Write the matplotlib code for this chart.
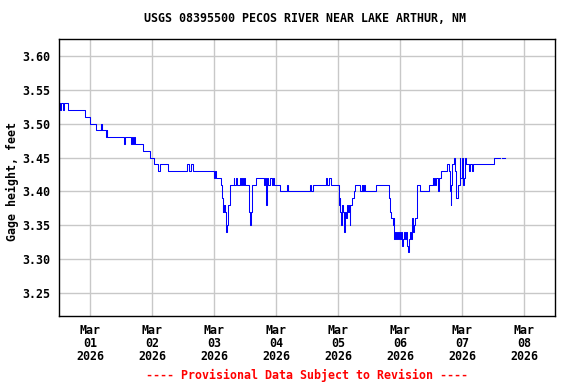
import numpy as np
import matplotlib
matplotlib.use("Agg")
import matplotlib.pyplot as plt
import matplotlib.dates as mdates

# Gage readings (days after 2026-03-01 00:00, feet)
dias = [-0.50, -0.48, -0.46, -0.44, -0.42, -0.36, -0.08, 0.00, 0.10, 0.17,
        0.18, 0.19, 0.20, 0.26, 0.27, 0.28, 0.55, 0.57, 0.66, 0.68,
        0.69, 0.71, 0.72, 0.85, 0.96, 1.04, 1.09, 1.13, 1.26, 1.56,
        1.59, 1.63, 1.66, 2.00, 2.01, 2.03, 2.12, 2.13, 2.14, 2.15,
        2.16, 2.17, 2.18, 2.19, 2.20, 2.21, 2.22, 2.23, 2.25, 2.26,
        2.32, 2.33, 2.36, 2.37, 2.42, 2.44, 2.45, 2.47, 2.48, 2.50,
        2.56, 2.58, 2.59, 2.61, 2.62, 2.67, 2.81, 2.82, 2.84, 2.85,
        2.86, 2.87, 2.90, 2.94, 2.95, 2.97, 3.06, 3.17, 3.19, 3.55,
        3.56, 3.59, 3.81, 3.82, 3.85, 3.89, 4.02, 4.03, 4.04, 4.05,
        4.06, 4.08, 4.10, 4.11, 4.13, 4.15, 4.16, 4.18, 4.19, 4.20,
        4.22, 4.25, 4.27, 4.36, 4.38, 4.39, 4.40, 4.41, 4.42, 4.44,
        4.62, 4.83, 4.84, 4.85, 4.89, 4.90, 4.91, 4.92, 4.94, 4.95,
        4.97, 4.98, 5.00, 5.02, 5.03, 5.05, 5.07, 5.08, 5.10, 5.11,
        5.13, 5.15, 5.16, 5.18, 5.20, 5.21, 5.23, 5.24, 5.27, 5.33,
        5.47, 5.53, 5.54, 5.55, 5.57, 5.58, 5.62, 5.63, 5.66, 5.75,
        5.79, 5.80, 5.82, 5.83, 5.84, 5.87, 5.89, 5.90, 5.94, 5.96,
        5.97, 6.00, 6.01, 6.04, 6.05, 6.06, 6.12, 6.13, 6.16, 6.17,
        6.52, 6.62, 6.64, 6.69]

altura = [3.53, 3.52, 3.53, 3.52, 3.53, 3.52, 3.51, 3.50, 3.49, 3.50,
          3.49, 3.50, 3.49, 3.48, 3.49, 3.48, 3.47, 3.48, 3.47, 3.48,
          3.47, 3.48, 3.47, 3.46, 3.45, 3.44, 3.43, 3.44, 3.43, 3.44,
          3.43, 3.44, 3.43, 3.42, 3.43, 3.42, 3.41, 3.39, 3.37, 3.38,
          3.37, 3.38, 3.37, 3.35, 3.34, 3.35, 3.37, 3.38, 3.39, 3.41,
          3.42, 3.41, 3.42, 3.41, 3.42, 3.41, 3.42, 3.41, 3.42, 3.41,
          3.37, 3.35, 3.37, 3.40, 3.41, 3.42, 3.41, 3.42, 3.38, 3.41,
          3.42, 3.41, 3.42, 3.41, 3.42, 3.41, 3.40, 3.41, 3.40, 3.41,
          3.40, 3.41, 3.42, 3.41, 3.42, 3.41, 3.38, 3.39, 3.37, 3.35,
          3.38, 3.37, 3.34, 3.37, 3.36, 3.38, 3.37, 3.38, 3.35, 3.38,
          3.39, 3.40, 3.41, 3.40, 3.41, 3.40, 3.41, 3.40, 3.41, 3.40,
          3.41, 3.39, 3.37, 3.36, 3.35, 3.36, 3.33, 3.34, 3.33, 3.34,
          3.33, 3.34, 3.33, 3.34, 3.32, 3.33, 3.34, 3.33, 3.34, 3.32,
          3.31, 3.33, 3.34, 3.33, 3.36, 3.34, 3.35, 3.36, 3.41, 3.40,
          3.41, 3.42, 3.41, 3.42, 3.41, 3.42, 3.40, 3.42, 3.43, 3.44,
          3.43, 3.40, 3.38, 3.41, 3.44, 3.45, 3.43, 3.39, 3.41, 3.45,
          3.42, 3.45, 3.41, 3.42, 3.45, 3.44, 3.43, 3.44, 3.43, 3.44,
          3.45, np.nan, 3.45, 3.45]

titulo = "USGS 08395500 PECOS RIVER NEAR LAKE ARTHUR, NM"
etiqueta_y = "Gage height, feet"
aviso = "---- Provisional Data Subject to Revision ----"
ticks_y = [3.25, 3.30, 3.35, 3.40, 3.45, 3.50, 3.55, 3.60]

inicio = np.datetime64("2026-03-01T00:00")
tiempos = inicio + (np.array(dias) * 1440).round().astype("timedelta64[m]")

fuente = "DejaVu Sans Mono"
plt.rcParams["font.family"] = fuente
plt.rcParams["font.weight"] = "bold"

fig = plt.figure(figsize=(5.76, 3.84), dpi=100)
ax = fig.add_axes([59 / 576, 1 - 316 / 384, 496 / 576, 277 / 384])

ax.step(tiempos, altura, where="post", color="#0000ff", linewidth=0.75)

ax.set_xlim(np.datetime64("2026-02-28T12:00"), np.datetime64("2026-03-08T12:00"))
ax.set_ylim(3.216, 3.625)
ax.set_yticks(ticks_y)
ax.yaxis.set_major_formatter(plt.FormatStrFormatter("%.2f"))
ax.xaxis.set_major_locator(mdates.DayLocator())
ax.xaxis.set_major_formatter(mdates.DateFormatter("%b\n%d\n%Y"))

ax.grid(True, color="#c8c8c8", linewidth=1.0)
ax.set_axisbelow(True)
ax.tick_params(length=0, labelsize=8.4, pad=6)
for lab in ax.get_xticklabels():
    lab.set_linespacing(1.0)
for sp in ax.spines.values():
    sp.set_linewidth(1.0)
    sp.set_color("black")

fig.text(0.5 + 17 / 576, 1 - 19 / 384, titulo, ha="center", va="center",
         fontsize=8.4, fontweight="bold")
fig.text(12 / 576, 1 - 182 / 384, etiqueta_y, ha="center", va="center",
         rotation=90, fontsize=8.4, fontweight="bold")
fig.text(307 / 576, 1 - 375 / 384, aviso, ha="center", va="center",
         fontsize=8.4, fontweight="bold", color="red")

fig.savefig("out.png", dpi=100)
